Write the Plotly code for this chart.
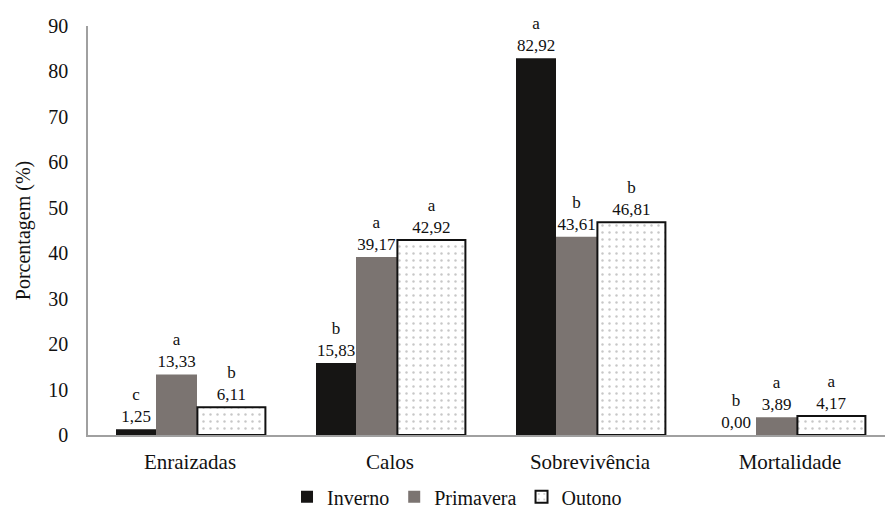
import plotly.graph_objects as go

categories = ["Enraizadas", "Calos", "Sobrevivência", "Mortalidade"]
series_names = ["Inverno", "Primavera", "Outono"]
inverno = [1.25, 15.83, 82.92, 0.00]
primavera = [13.33, 39.17, 43.61, 3.89]
outono = [6.11, 42.92, 46.81, 4.17]
letters_inverno = ["c", "b", "a", "b"]
letters_primavera = ["a", "a", "b", "a"]
letters_outono = ["b", "a", "b", "a"]
y_ticks = [0, 10, 20, 30, 40, 50, 60, 70, 80, 90]

FONT = "Liberation Serif, Times New Roman, serif"


def labels(letters, vals):
    return [f"{l}<br>{v:.2f}".replace(".", ",") for l, v in zip(letters, vals)]


fig = go.Figure()
fig.add_trace(go.Bar(
    x=categories, y=inverno, name=series_names[0],
    text=labels(letters_inverno, inverno),
    marker=dict(color="#161514", line=dict(width=0)),
    width=0.2, offset=-0.37,
))
fig.add_trace(go.Bar(
    x=categories, y=primavera, name=series_names[1],
    text=labels(letters_primavera, primavera),
    marker=dict(color="#7b7471", line=dict(width=0)),
    width=0.205, offset=-0.17,
))
fig.add_trace(go.Bar(
    x=categories, y=outono, name=series_names[2],
    text=labels(letters_outono, outono),
    marker=dict(color="white", line=dict(color="#111111", width=2),
                pattern=dict(shape=".", fgcolor="#909090", bgcolor="white",
                             size=7, solidity=0.1)),
    width=0.34, offset=0.037,
))
fig.update_traces(textposition="outside", cliponaxis=False, constraintext="none",
                  textfont=dict(family=FONT, size=17, color="#111111"))

fig.update_layout(
    width=885, height=511,
    margin=dict(l=88, r=0, t=26, b=76, autoexpand=False),
    paper_bgcolor="white", plot_bgcolor="white",
    barmode="overlay",
    font=dict(family=FONT, color="#111111"),
    showlegend=True,
    legend=dict(orientation="h", x=0.463, xanchor="center",
                yref="container", y=0.028, yanchor="middle",
                font=dict(family=FONT, size=20), itemwidth=30,
                traceorder="normal"),
    xaxis=dict(range=[-0.51, 3.475], showline=True, linecolor="#a0a0a0", linewidth=1.5,
               ticks="", tickfont=dict(family=FONT, size=21), showgrid=False,
               ticklabelstandoff=7),
    yaxis=dict(range=[0, 90], tickvals=y_ticks, showline=True, linecolor="#a0a0a0",
               linewidth=1.5, ticks="", showgrid=False, zeroline=False,
               tickfont=dict(family=FONT, size=20), ticklabelstandoff=14,
               title=dict(text="Porcentagem (%)", font=dict(family=FONT, size=20),
                          standoff=12)),
)

fig.write_html("out.html")
